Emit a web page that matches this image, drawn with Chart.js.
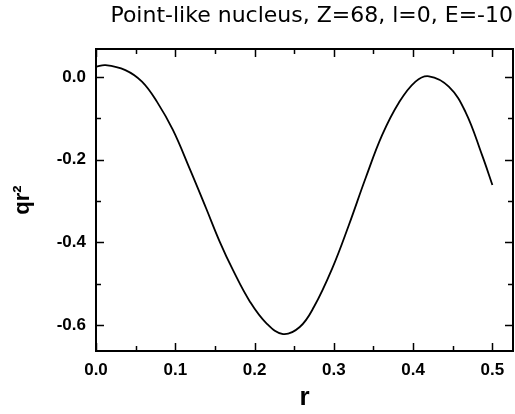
<!DOCTYPE html>
<html>
<head>
<meta charset="utf-8">
<script src="https://cdn.jsdelivr.net/npm/chart.js@4/dist/chart.umd.min.js"></script>
<style>
  html, body { margin: 0; padding: 0; background: #fff; }
  #wrap { width: 515px; height: 414px; }
</style>
</head>
<body>
<div id="wrap"><canvas id="c" width="515" height="414"></canvas></div>
<script>
// ---- data ----
const titleText = "Point-like nucleus, Z=68, l=0, E=-10";
const xTitle = "r";
const yTitle = "qr\u00B2";
const rValues = [0, 0.012, 0.037, 0.058, 0.077, 0.097, 0.118, 0.139, 0.156, 0.173, 0.194, 0.215, 0.236, 0.257, 0.275, 0.298, 0.319, 0.340, 0.361, 0.382, 0.403, 0.420, 0.445, 0.466, 0.487, 0.5];
const qr2Values = [0.025, 0.029, 0.017, -0.011, -0.060, -0.128, -0.221, -0.318, -0.398, -0.468, -0.543, -0.596, -0.622, -0.605, -0.556, -0.463, -0.358, -0.245, -0.140, -0.062, -0.011, 0.002, -0.023, -0.084, -0.189, -0.261];
const xTickLabels = [0.0, 0.1, 0.2, 0.3, 0.4, 0.5];
const xMinorTicks = [0.05, 0.15, 0.25, 0.35, 0.45];
const yTickLabels = [0.0, -0.2, -0.4, -0.6];
const yMinorTicks = [-0.1, -0.3, -0.5];
const xRange = [0, 0.526];
const yRange = [-0.663, 0.068];

const points = rValues.map((r, i) => ({ x: r, y: qr2Values[i] }));

const framePlugin = {
  id: 'frameTicks',
  afterDatasetsDraw(chart) {
    const { ctx, chartArea: a, scales } = chart;
    const xs = scales.x, ys = scales.y;
    ctx.save();
    ctx.strokeStyle = '#000';
    ctx.lineWidth = 2;
    ctx.strokeRect(a.left, a.top, a.right - a.left, a.bottom - a.top);
    ctx.lineWidth = 1.5;
    const xt = (v, len) => {
      const px = Math.round(xs.getPixelForValue(v)) + 0.5;
      ctx.beginPath();
      ctx.moveTo(px, a.bottom); ctx.lineTo(px, a.bottom - len);
      ctx.moveTo(px, a.top); ctx.lineTo(px, a.top + len);
      ctx.stroke();
    };
    const yt = (v, len) => {
      const py = Math.round(ys.getPixelForValue(v)) + 0.5;
      ctx.beginPath();
      ctx.moveTo(a.left, py); ctx.lineTo(a.left + len, py);
      ctx.moveTo(a.right, py); ctx.lineTo(a.right - len, py);
      ctx.stroke();
    };
    xTickLabels.forEach(v => xt(v, 8));
    xMinorTicks.forEach(v => xt(v, 5));
    yTickLabels.forEach(v => yt(v, 8));
    yMinorTicks.forEach(v => yt(v, 5));
    ctx.restore();
  }
};

const tickFont = { family: "'Liberation Sans', Arial, sans-serif", size: 17, weight: 'bold' };

new Chart(document.getElementById('c'), {
  type: 'scatter',
  data: {
    datasets: [{
      data: points,
      showLine: true,
      borderColor: '#000',
      borderWidth: 1.8,
      pointRadius: 0,
      tension: 0.4,
      fill: false
    }]
  },
  options: {
    responsive: false,
    animation: false,
    layout: { padding: { left: 0, right: 2, top: 0, bottom: 0 } },
    plugins: {
      legend: { display: false },
      tooltip: { enabled: false },
      title: {
        display: true,
        text: titleText,
        align: 'end',
        color: '#000',
        font: { family: "'DejaVu Sans', sans-serif", size: 22, weight: 'normal', lineHeight: 1.2 },
        padding: { top: 3, bottom: 19.6 }
      }
    },
    scales: {
      x: {
        type: 'linear',
        min: xRange[0], max: xRange[1],
        grid: { display: false, drawTicks: false },
        border: { display: false },
        afterBuildTicks(scale) { scale.ticks = xTickLabels.map(v => ({ value: v })); },
        afterFit(scale) { scale.height = 63; },
        ticks: {
          padding: 9,
          color: '#000',
          font: tickFont,
          maxRotation: 0,
          callback: v => v.toFixed(1)
        },
        title: {
          display: true, text: xTitle, color: '#000',
          font: { family: "'Liberation Sans', Arial, sans-serif", size: 26, weight: 'bold', lineHeight: 1.2 },
          padding: { top: 0, bottom: 1 }
        }
      },
      y: {
        type: 'linear',
        min: yRange[0], max: yRange[1],
        grid: { display: false, drawTicks: false },
        border: { display: false },
        afterBuildTicks(scale) { scale.ticks = yTickLabels.map(v => ({ value: v })); },
        afterFit(scale) { scale.width = 96; },
        ticks: {
          padding: 10,
          color: '#000',
          font: tickFont,
          callback: v => (v === 0 ? '0.0' : v.toFixed(1))
        },
        title: {
          display: true, text: yTitle, color: '#000',
          font: { family: "'Liberation Sans', Arial, sans-serif", size: 22, weight: 'bold', lineHeight: 1.2 },
          padding: { top: 10, bottom: 0 }
        }
      }
    }
  },
  plugins: [framePlugin]
});
</script>
</body>
</html>
